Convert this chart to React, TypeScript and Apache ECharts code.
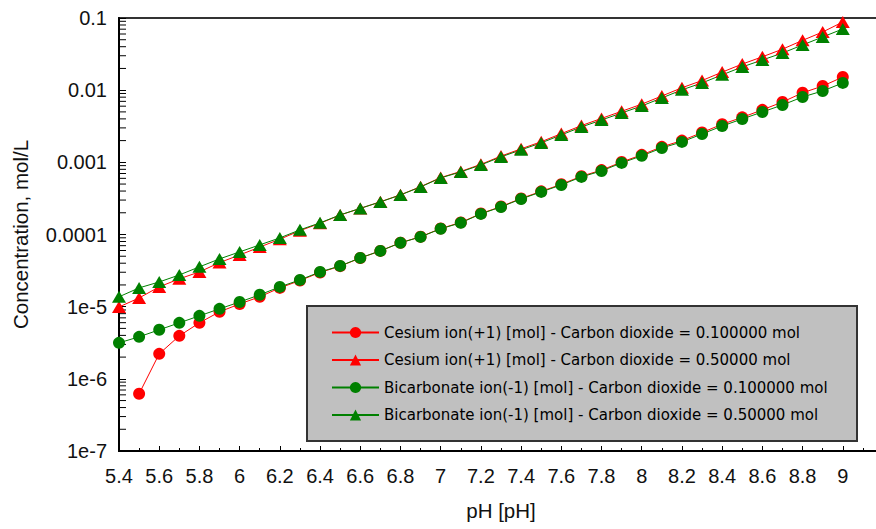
import React, { useEffect, useRef } from "react";
import * as echarts from "echarts";

const pH = [5.4, 5.5, 5.6, 5.7, 5.8, 5.9, 6.0, 6.1, 6.2, 6.3, 6.4, 6.5, 6.6, 6.7, 6.8, 6.9, 7.0, 7.1, 7.2, 7.3, 7.4, 7.5, 7.6, 7.7, 7.8, 7.9, 8.0, 8.1, 8.2, 8.3, 8.4, 8.5, 8.6, 8.7, 8.8, 8.9, 9.0];

const cesium01: (number | null)[] = [null, 6.2e-7, 2.22e-6, 3.94e-6, 5.97e-6, 8.48e-6, 1.09e-5, 1.37e-5, 1.82e-5, 2.30e-5, 2.98e-5, 3.64e-5, 4.72e-5, 5.93e-5, 7.7e-5, 9.3e-5, 1.21e-4, 1.47e-4, 1.95e-4, 2.44e-4, 3.16e-4, 3.96e-4, 4.96e-4, 6.42e-4, 7.8e-4, 1.01e-3, 1.27e-3, 1.64e-3, 2.0e-3, 2.59e-3, 3.37e-3, 4.2e-3, 5.34e-3, 6.85e-3, 9.2e-3, 1.14e-2, 1.52e-2];

const cesium05 = [9.9e-6, 1.32e-5, 1.88e-5, 2.43e-5, 3.03e-5, 4.08e-5, 5.2e-5, 6.7e-5, 8.6e-5, 1.13e-4, 1.43e-4, 1.86e-4, 2.3e-4, 2.84e-4, 3.55e-4, 4.6e-4, 6.15e-4, 7.48e-4, 9.38e-4, 1.22e-3, 1.54e-3, 1.93e-3, 2.5e-3, 3.23e-3, 4.06e-3, 5.1e-3, 6.4e-3, 8.3e-3, 1.08e-2, 1.36e-2, 1.78e-2, 2.3e-2, 2.9e-2, 3.7e-2, 4.9e-2, 6.4e-2, 8.8e-2];

const bicarb01 = [3.15e-6, 3.82e-6, 4.78e-6, 5.97e-6, 7.46e-6, 9.33e-6, 1.16e-5, 1.46e-5, 1.88e-5, 2.35e-5, 3.03e-5, 3.67e-5, 4.74e-5, 5.93e-5, 7.66e-5, 9.27e-5, 1.20e-4, 1.45e-4, 1.93e-4, 2.41e-4, 3.11e-4, 3.89e-4, 4.86e-4, 6.28e-4, 7.60e-4, 9.82e-4, 1.23e-3, 1.58e-3, 1.92e-3, 2.47e-3, 3.19e-3, 3.99e-3, 4.99e-3, 6.23e-3, 8.05e-3, 9.75e-3, 1.26e-2];

const bicarb05 = [1.37e-5, 1.82e-5, 2.20e-5, 2.75e-5, 3.56e-5, 4.59e-5, 5.74e-5, 7.18e-5, 8.97e-5, 1.16e-4, 1.45e-4, 1.87e-4, 2.30e-4, 2.83e-4, 3.53e-4, 4.56e-4, 6.08e-4, 7.37e-4, 9.20e-4, 1.19e-3, 1.49e-3, 1.86e-3, 2.40e-3, 3.09e-3, 3.86e-3, 4.83e-3, 6.04e-3, 7.80e-3, 1.01e-2, 1.26e-2, 1.63e-2, 2.10e-2, 2.62e-2, 3.27e-2, 4.23e-2, 5.46e-2, 7.05e-2];

const seriesNames = [
  "Cesium ion(+1) [mol] - Carbon dioxide = 0.100000 mol",
  "Cesium ion(+1) [mol] - Carbon dioxide = 0.50000 mol",
  "Bicarbonate ion(-1) [mol] - Carbon dioxide = 0.100000 mol",
  "Bicarbonate ion(-1) [mol] - Carbon dioxide = 0.50000 mol",
];

const yTickLabels = ["1e-7", "1e-6", "1e-5", "0.0001", "0.001", "0.01", "0.1"];
const yMinorMantissas = [2, 3, 4, 5, 6, 7, 8, 9];
const yDecades = [-7, -6, -5, -4, -3, -2];

const RED = "#ff0000";
const GREEN = "#008000";
const LABEL_FONT = "'Liberation Sans', Arial, sans-serif";
const LEGEND_FONT = "'DejaVu Sans', Verdana, sans-serif";

function pairs(vals: (number | null)[]) {
  return pH.map((x, i) => [x, vals[i]]);
}

export default function App() {
  const ref = useRef<HTMLDivElement>(null);
  useEffect(() => {
    if (!ref.current) return;
    const chart = echarts.init(ref.current, null, { renderer: "svg" });

    const minorTicks: number[][] = [];
    yDecades.forEach((k) => yMinorMantissas.forEach((m) => minorTicks.push([5.4, m * Math.pow(10, k)])));

    const lineSeries = (name: string, data: (number | null)[], color: string, symbol: string, size: any) => ({
      name,
      type: "line",
      data: pairs(data),
      symbol,
      symbolSize: size,
      showAllSymbol: true,
      connectNulls: false,
      itemStyle: { color },
      lineStyle: { color, width: 1 },
      emphasis: { disabled: true },
      z: 3,
    });

    chart.setOption({
      animation: false,
      backgroundColor: "#ffffff",
      grid: {
        left: 119,
        top: 18,
        width: 764,
        height: 433,
        show: true,
        borderColor: "#333",
        borderWidth: 2,
        backgroundColor: "transparent",
        containLabel: false,
        outerBoundsMode: "none",
      },
      legend: {
        data: seriesNames,
        orient: "vertical",
        left: 331,
        top: 325,
        itemWidth: 47,
        itemHeight: 14,
        itemGap: 12.5,
        padding: 0,
        z: 20,
        selectedMode: false,
        textStyle: { fontFamily: LEGEND_FONT, fontSize: 15, color: "#000" },
      },
      graphic: [
        {
          type: "rect",
          z: 10,
          shape: { x: 307, y: 306, width: 550, height: 135 },
          style: { fill: "#c0c0c0", stroke: "#333", lineWidth: 2 },
        },
      ],
      xAxis: {
        type: "value",
        min: 5.4,
        max: 9.2,
        interval: 0.2,
        name: "pH [pH]",
        nameLocation: "middle",
        nameGap: 49,
        nameTextStyle: { fontFamily: LABEL_FONT, fontSize: 20.5, color: "#111" },
        axisLine: { show: true, lineStyle: { color: "#000", width: 2 } },
        axisTick: { show: true, inside: true, length: 5, lineStyle: { color: "#000", width: 1 } },
        minorTick: { show: true, splitNumber: 2, length: 3, lineStyle: { color: "#000", width: 1 } },
        splitLine: { show: false },
        axisLabel: {
          margin: 15,
          fontFamily: LABEL_FONT,
          fontSize: 20,
          color: "#111",
          formatter: (v: number) => (v > 9.05 ? "" : String(Math.round(v * 10) / 10)),
        },
      },
      yAxis: {
        type: "log",
        logBase: 10,
        min: 1e-7,
        max: 0.1,
        name: "Concentration, mol/L",
        nameLocation: "middle",
        nameGap: 88,
        nameTextStyle: { fontFamily: LABEL_FONT, fontSize: 20.5, color: "#111" },
        axisLine: { show: true, lineStyle: { color: "#000", width: 2 } },
        axisTick: { show: true, inside: true, length: 7, lineStyle: { color: "#000", width: 1 } },
        splitLine: { show: false },
        axisLabel: {
          margin: 12,
          fontFamily: LABEL_FONT,
          fontSize: 20,
          color: "#111",
          formatter: (v: number) => yTickLabels[Math.round(Math.log10(v)) + 7] ?? "",
        },
      },
      series: [
        {
          name: "",
          type: "custom",
          data: minorTicks,
          encode: { x: 0, y: 1 },
          silent: true,
          z: 1,
          renderItem: (params: any, api: any) => {
            const p = api.coord([api.value(0), api.value(1)]);
            return {
              type: "line",
              shape: { x1: p[0], y1: p[1], x2: p[0] + 7, y2: p[1] },
              style: { stroke: "#000", lineWidth: 1 },
            };
          },
        },
        lineSeries(seriesNames[0], cesium01, RED, "circle", 12),
        lineSeries(seriesNames[1], cesium05, RED, "triangle", [14, 12]),
        lineSeries(seriesNames[2], bicarb01, GREEN, "circle", 12),
        lineSeries(seriesNames[3], bicarb05, GREEN, "triangle", [14, 12]),
      ],
    });
    return () => chart.dispose();
  }, []);

  return (
    <div
      ref={ref}
      style={{ position: "fixed", left: 0, top: 0, width: 876, height: 529, background: "#fff" }}
    />
  );
}
